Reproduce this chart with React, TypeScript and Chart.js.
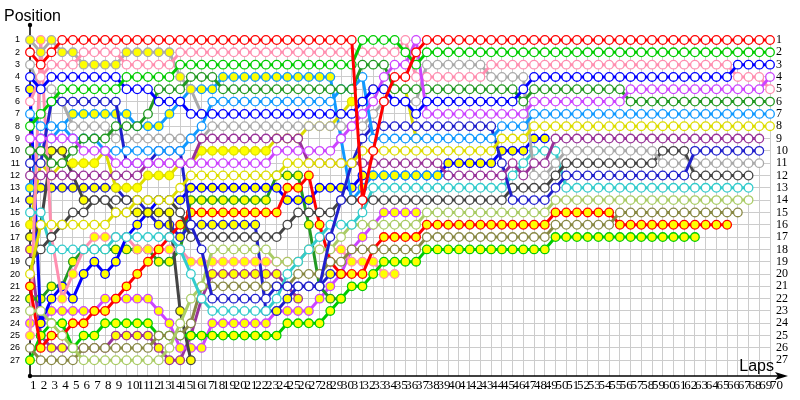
import React, { useEffect, useRef } from "react";
import { Chart, registerables } from "chart.js";
Chart.register(...registerables);

const LAPS = [1,2,3,4,5,6,7,8,9,10,11,12,13,14,15,16,17,18,19,20,21,22,23,24,25,26,27,28,29,30,31,32,33,34,35,36,37,38,39,40,41,42,43,44,45,46,47,48,49,50,51,52,53,54,55,56,57,58,59,60,61,62,63,64,65,66,67,68,69,70];
const POSITIONS = [1,2,3,4,5,6,7,8,9,10,11,12,13,14,15,16,17,18,19,20,21,22,23,24,25,26,27];

const RED = [2,3,2,1,1,1,1,1,1,1, 1,1,1,1,1,1,1,1,1,1, 1,1,1,1,1,1,1,1,1,1, 1,14,10,6,4,4,2, 1,1,1,1,1,1,1,1,1,1,1,1,1,1,1,1,1,1,1,1,1,1,1,1,1,1,1,1,1,1,1,1,1];
const GREEN = [8,7,6,5,5,5,5,5,5,4, 4,4,4,4,3,3,3,3,3,3, 3,3,3,3,3,3,3,3,3,3, 3,1,1,1,1,2,3, 2,2,2,2,2,2,2,2,2,2,2,2,2,2,2,2,2,2,2,2,2,2,2,2,2,2,2,2,2,2,2,2,2];
const PINK = [6,4,3,3,3,2,2,2,2,3, 3,3,3,3,2,2,2,2,2,2, 2,2,2,2,2,2,2,2,2,2, 2,2,2,2,2,1,4, 4,4,4,4,4,4, 3,3,3,3,3,3,3,3,3,3,3,3,3,3,3,3,3,3,3,3,3,3,3, 4,4,4,5];
const BLUE = [4,5,4,4,4,4,4,4,4,5, 5,5,6,6,6,7,7,7,7,7, 7,7,7,7,7,7,7,7,7,7, 7,6,5,5,6,6,7, 6,6,6,6,6,6,6,6,6, 5, 4,4,4,4,4,4,4,4,4,4,4,4,4,4,4,4,4,4,4, 3,3,3,3];
const VIOLET = [9,9,9,9,9,10,10,10,11,11, 11,11,11,11,11,11,11,11,11,11, 11,11,11,10,10,10,10,10,10,9, 8,7,6,4,3,3,1, 7,7,7,7,7,7,7,7,7,7, 6,6,6,6,6,6,6,6,6, 5,5,5,5,5,5,5,5,5,5,5,5,5, 4];
const DARKGREEN = [10,10,11,11,10,9,9,9,8,8, 8,7,5,5,5,4,4,4,5,5, 5,5,5,5,5,5,5,5,5,5, 5,3,3,3,5,5,5, 5,5,5,5,5,5,5,5,5, 6, 5,5,5,5,5,5,5,5,5, 6,6,6,6,6,6,6,6,6,6,6,6,6,6];
const SKYBLUE = [7,8,8,8,9,9,9,10,10,10, 10,10,10,10,10,9,8,6,6,6, 6,6,6,6,6,6,6,6,6, 5,5,4,9,9,9,9,9, 9,9,9,9,9,9,9, 8,8,8, 7,7,7,7,7,7,7,7,7,7,7,7,7,7,7,7,7,7,7,7,7,7,7];
const YELLOW = [20,16,16,16,16,16,16,16,15,15, 14,14,14,14,13,12,12,12,12,12, 12,12,12,12,11,11,11,11,11,11, 11,10,10,10,10,10,10, 10,10,10,10,10,10,10, 9,9,9, 8,8,8,8,8,8,8,8,8,8,8,8,8,8,8,8,8,8,8,8,8,8,8];
const PURPLE = [12,12,12,12,12,12,12,12,12,12, 12,11,11,11,11,11,9,9,9,9, 9,9,9,9,9,9,11,11,11,11, 11,11,11,11,11,11,11, 11,11,12,12,12,12,12,12, 11,12,11,11, 9,9,9,9,9,9,9,9,9,9,9,9,9,9,9,9,9,9,9,9];
const NAVY = [11,11,6,6,6,6,6,6,6,11, 11,11,10,10,10,16,18,22,22,22, 22,22,22,21,21,21,21,21,17,14, 11,9,8,8,8,8,8, 8,8,8,8,8,8,8, 11, 14,14,14,14, 13, 12,12,12,12,12,12,12,12,12,12,12,12, 10,10,10,10,10,10,10];
const GRAY = [3,5,5,6,8,8,8,8,9,9, 9,9,9,9,9,9,9,8,8,8, 8,8,8,8,8,8,8,8,8,8, 8,8,7,6,6,6,6, 3,3,3,3,3,3, 4,4,4,4, 12,12,11, 10,10,10,10,10,10,10,10,10, 11,11,11,11,11,11,11,11,11,11];
const DARKGRAY = [19,18,17,16,15,15,14,14,14,14, 14,14,14,14,15,17,17,17,17,17, 17,17,17,17,16,15,15,15,15,14, 14,14,14,14,14,14,14, 14,14,14,14,14,14,14,14, 13,13,13,13, 12, 11,11,11,11,11,11,11,11,11, 10,10,10, 12,12,12,12,12,12];
const TEAL = [15,15,18,18,18,18,18,18,17,17, 17,17,17,17,18,20,22,23,23,23, 23,23,23,22,20,19,18,17,16,16, 16,15,13,13,13,13,13, 13,13,13,13,13,13,13,13, 12,11,10,10,10, 13,13,13,13,13,13,13,13,13,13,13,13,13,13,13,13,13,13];
const LIME = [23,23,24,25,26,27,27,27,27,27, 27,27,27,26,24,22,21,18,18,18, 18,18,18,19,19,19,18,18,18,17, 16,16,16,16,16,16,16, 15,15,15,15,15,15,15,15,15,15,15,15, 14,14,14,14,14,14,14,14,14,14,14,14,14,14,14,14,14,14,14];
const OLIVE = [26,27,27,27,27,26,26,26,26,26, 26,26,25,25,25,24,21,21,21,21, 21,21,21,21,21,20,20,20,19,19, 18,18,18,18,18,18,18, 17,17,17,17,17,17,17,17,17,17,17,17, 16,16,16,16,16,16, 15,15,15,15,15,15,15,15,15,15,15,15];
const RED_Y = [21,26,25,25,24,24,23,23,22,21, 20,19,18,17,16,15,15,15,15,15, 15,15,15,15,13,13,12,16,19,20, 20,20,18,17,17,17,17, 16,16,16,16,16,16,16,16,16,16,16,16, 15,15,15,15,15,15, 16,16,16,16,16,16,16,16,16,16,16];
const GREEN_Y = [27,25,24,24,26,25,25,24,24,24, 24,24,25,25,25,25,25,25,25,25, 25,25,25,25,24,24,24,24,23,22, 21,21,20,19,19,19,19, 18,18,18,18,18,18,18,18,18,18,18,18, 17,17,17,17,17,17,17,17,17,17,17,17,17,17];
const GRAY_Y = [1,2,1,2,2,3,3,3,3,2, 2,2,2,2,4,5,7];
const PINK_Y = [25,1,17,22,20,18,17,17,17,17, 18,18,18,18,18,19,19,19,19,19, 19,19,19,19,19,19,18,18,18,18, 19,19,19,20,20];
const YELLOW_Y = [16,11,12,11,11,11,11,10,13,13, 13,12,12,12,11,11,10,10,10,10, 10,10,10,9,9,9,8,8,8,7, 6,6,5,5,5,5,9];
const SKYBLUE_Y = [13,9,9,8,7,7,7,7,7,7, 8,8,8,7,6,5,5,5,4,4, 4,4,4,4,4,4,4,4,4, 9,14,13,12,12,12,12,12,12,12,12];
const DARKGRAY_Y = [17,16,10,10,12,14,14,14,15,15, 15,15,15,15,23,27];
const BLUE_Y = [5,24,22,21,22,20,19,20,19,17, 16,15,14,14,14,13,13,13,13,13, 13,13,13,13,14,14,14,13,13,13, 13,12,12,12,12,12,12, 12,12, 11,11,11,11,11, 10,10,10, 9,9];
const NAVY_Y = [14,13,13,13,13,13,13,13,13,14, 14,15,16,16,17,16,16,16,16,16, 16,16,23,23,22,21,21,21,20,20];
const DARKGREEN_Y = [22,22,21,21,19,18,18,18,18,18, 18,18,19,19,18,14,14,14,14,14, 14,14,14,12,12,12,16,21,22,22];
const VIOLET_Y = [24,24,23,23,23,23,23,22,22,22, 22,22,23,24,26,26,26,24,24,24, 24,24,24,23,23,23,23,22,21,20, 18,17,16,15,15,15,15];
const PURPLE_Y = [18,25,26,26,26,26,26,26,25,25, 25,25,26,27,27,25,22,20,20,20, 20,20,20,20,21,22];

const DRIVERS = [
  { border: "#ff0000", fill: "#ffffff", pos: RED },
  { border: "#00cc00", fill: "#ffffff", pos: GREEN },
  { border: "#0000ff", fill: "#ffffff", pos: BLUE },
  { border: "#cc44ff", fill: "#ffffff", pos: VIOLET },
  { border: "#ff8fb0", fill: "#ffffff", pos: PINK },
  { border: "#229922", fill: "#ffffff", pos: DARKGREEN },
  { border: "#1199ff", fill: "#ffffff", pos: SKYBLUE },
  { border: "#dddd00", fill: "#ffffff", pos: YELLOW },
  { border: "#993399", fill: "#ffffff", pos: PURPLE },
  { border: "#2020cc", fill: "#ffffff", pos: NAVY },
  { border: "#aaaaaa", fill: "#ffffff", pos: GRAY },
  { border: "#444444", fill: "#ffffff", pos: DARKGRAY },
  { border: "#33cccc", fill: "#ffffff", pos: TEAL },
  { border: "#aacc66", fill: "#ffffff", pos: LIME },
  { border: "#888844", fill: "#ffffff", pos: OLIVE },
  { border: "#ff0000", fill: "#ffff00", pos: RED_Y },
  { border: "#00cc00", fill: "#ffff00", pos: GREEN_Y },
  { border: "#aaaaaa", fill: "#ffff00", pos: GRAY_Y },
  { border: "#ff8fb0", fill: "#ffff00", pos: PINK_Y },
  { border: "#dddd00", fill: "#ffff00", pos: YELLOW_Y },
  { border: "#1199ff", fill: "#ffff00", pos: SKYBLUE_Y },
  { border: "#444444", fill: "#ffff00", pos: DARKGRAY_Y },
  { border: "#0000ff", fill: "#ffff00", pos: BLUE_Y },
  { border: "#2020cc", fill: "#ffff00", pos: NAVY_Y },
  { border: "#229922", fill: "#ffff00", pos: DARKGREEN_Y },
  { border: "#cc44ff", fill: "#ffff00", pos: VIOLET_Y },
  { border: "#993399", fill: "#ffff00", pos: PURPLE_Y },
];

const axisPlugin = {
  id: "axisDecor",
  beforeDatasetsDraw(chart: any) {
    const { ctx, chartArea } = chart;
    const x0 = chartArea.left;
    const y0 = chartArea.bottom;
    ctx.save();
    ctx.strokeStyle = "#000";
    ctx.fillStyle = "#000";
    ctx.lineWidth = 1.5;
    ctx.beginPath();
    ctx.moveTo(x0, y0);
    ctx.lineTo(x0, chartArea.top - 15);
    ctx.stroke();
    ctx.beginPath();
    ctx.moveTo(x0, y0);
    ctx.lineTo(chartArea.right + 8, y0);
    ctx.stroke();
    ctx.beginPath();
    ctx.moveTo(chartArea.right + 18, y0);
    ctx.lineTo(chartArea.right + 5, y0 - 4);
    ctx.lineTo(chartArea.right + 8, y0);
    ctx.lineTo(chartArea.right + 5, y0 + 4);
    ctx.closePath();
    ctx.fill();
    ctx.beginPath();
    ctx.arc(x0, chartArea.top - 15, 2.2, 0, Math.PI * 2);
    ctx.fill();
    ctx.beginPath();
    ctx.arc(x0, y0, 2.2, 0, Math.PI * 2);
    ctx.fill();
    ctx.font = "16px 'Liberation Sans', Arial, sans-serif";
    ctx.textBaseline = "alphabetic";
    ctx.textAlign = "left";
    ctx.fillText("Position", 4, 21);
    ctx.textAlign = "right";
    ctx.fillText("Laps", chartArea.right + 4, y0 - 5);
    ctx.restore();
  },
};

export default function App() {
  const ref = useRef<HTMLCanvasElement | null>(null);
  useEffect(() => {
    if (!ref.current) return;
    const datasets = DRIVERS.map((d) => ({
      data: d.pos.map((p, i) => ({ x: LAPS[i], y: p })),
      borderColor: d.border,
      backgroundColor: d.fill,
      pointBackgroundColor: d.fill,
      pointBorderColor: d.border,
      pointRadius: 4.3,
      pointBorderWidth: 1.3,
      borderWidth: 3,
      tension: 0,
      clip: false as any,
    }));
    const yTicksCommon = {
      autoSkip: false,
      color: "#000",
    };
    const chart = new Chart(ref.current, {
      type: "line",
      data: { datasets },
      options: {
        responsive: false,
        animation: false,
        events: [],
        layout: { padding: { top: 40, left: 0, right: 0, bottom: 0 } },
        plugins: { legend: { display: false }, tooltip: { enabled: false } },
        scales: {
          x: {
            type: "linear",
            min: 1,
            max: 70,
            afterBuildTicks: (s: any) => {
              s.ticks = LAPS.map((v) => ({ value: v }));
            },
            afterFit: (s: any) => {
              s.height = 24;
            },
            ticks: {
              autoSkip: false,
              maxRotation: 0,
              minRotation: 0,
              align: "start",
              padding: 2,
              color: "#000",
              font: { family: "'Liberation Serif', serif", size: 13 },
            },
            grid: { color: "#cccccc", lineWidth: 1, drawTicks: false },
            border: { display: false },
          },
          y: {
            type: "linear",
            position: "left",
            reverse: true,
            min: 1,
            max: 28.28,
            afterBuildTicks: (s: any) => {
              s.ticks = POSITIONS.map((v) => ({ value: v }));
            },
            afterFit: (s: any) => {
              s.width = 30;
            },
            ticks: {
              ...yTicksCommon,
              padding: 10,
              font: { family: "'Liberation Sans', Arial, sans-serif", size: 9 },
            },
            grid: { color: "#cccccc", lineWidth: 1, drawTicks: false },
            border: { display: false },
          },
          y2: {
            type: "linear",
            position: "right",
            reverse: true,
            min: 1,
            max: 28.28,
            afterBuildTicks: (s: any) => {
              s.ticks = POSITIONS.map((v) => ({ value: v }));
            },
            afterFit: (s: any) => {
              s.width = 30;
            },
            ticks: {
              ...yTicksCommon,
              padding: 6,
              font: { family: "'Liberation Serif', serif", size: 12 },
            },
            grid: { display: false, drawTicks: false },
            border: { display: false },
          },
        },
      },
      plugins: [axisPlugin],
    });
    return () => chart.destroy();
  }, []);
  return (
    <div style={{ position: "absolute", left: 0, top: 0, width: 800, height: 400, background: "#fff" }}>
      <canvas ref={ref} width={800} height={400} />
    </div>
  );
}
